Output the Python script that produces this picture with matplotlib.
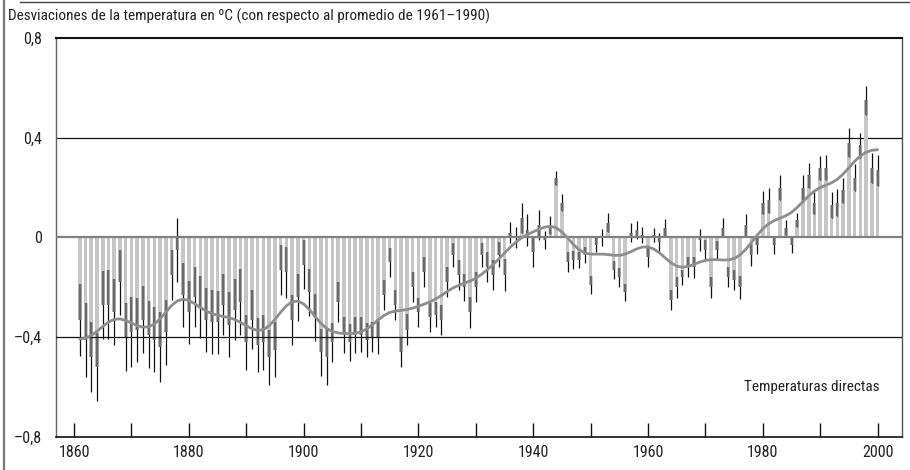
import numpy as np
import matplotlib
matplotlib.use("Agg")
import matplotlib.pyplot as plt
from matplotlib import font_manager as fm

# fuente estrecha si existe (el original usa una Helvetica condensada)
_names = {f.name for f in fm.fontManager.ttflist}
_cond = [f.name for f in fm.fontManager.ttflist if f.stretch in ("condensed", "semi-condensed", 75, 87)]
if "Liberation Sans Narrow" in _names:
    FONT, STRETCH, SCALE = "Liberation Sans Narrow", "normal", 1.05
elif "Roboto Condensed" in _names:
    FONT, STRETCH, SCALE = "Roboto Condensed", "normal", 1.0
elif "DejaVu Sans" in _cond:
    FONT, STRETCH, SCALE = "DejaVu Sans", "condensed", 0.98
else:
    FONT, STRETCH, SCALE = "Liberation Sans", "normal", 0.9
plt.rcParams['font.family'] = [FONT, 'DejaVu Sans']
plt.rcParams['font.stretch'] = STRETCH

# Años y desviaciones anuales (ºC, respecto a 1961-1990)
years = np.arange(1861, 2001)
values = [
    -0.33, -0.41, -0.48, -0.52, -0.27, -0.27, -0.30, -0.18, -0.40,
    -0.38, -0.37, -0.33, -0.39, -0.41, -0.44, -0.38, -0.15, -0.05, -0.23,
    -0.30, -0.24, -0.28, -0.33, -0.34, -0.34, -0.27, -0.35, -0.29, -0.26,
    -0.42, -0.33, -0.43, -0.42, -0.48, -0.45, -0.13, -0.14, -0.33, -0.24,
    -0.11, -0.22, -0.32, -0.46, -0.48, -0.42, -0.26, -0.39, -0.42, -0.39,
    -0.39, -0.41, -0.40, -0.40, -0.23, -0.10, -0.27, -0.46, -0.37, -0.20,
    -0.30, -0.14, -0.32, -0.31, -0.33, -0.18, -0.07, -0.15, -0.20, -0.30,
    -0.20, -0.07, -0.12, -0.15, -0.07, -0.15, 0.02, 0.00, 0.08, 0.03,
    -0.06, 0.05, -0.01, 0.05, 0.24, 0.14, -0.10, -0.09, -0.09, -0.07,
    -0.19, -0.03, 0.00, 0.06, -0.13, -0.16, -0.22, 0.02, 0.03, 0.01,
    -0.08, 0.01, -0.02, 0.04, -0.25, -0.20, -0.16, -0.12, -0.12, -0.01,
    -0.05, -0.20, -0.05, 0.04, -0.16, -0.17, -0.20, 0.05, -0.07, -0.03,
    0.14, 0.15, -0.03, 0.20, 0.04, -0.03, 0.07, 0.20, 0.25, 0.14,
    0.28, 0.28, 0.13, 0.14, 0.19, 0.38, 0.24, 0.37, 0.55, 0.28,
    0.27,
]
# semiamplitud del intervalo de incertidumbre de cada año
errors = [
    0.145, 0.148, 0.14, 0.137, 0.137, 0.138, 0.133, 0.13, 0.137,
    0.14, 0.129, 0.135, 0.135, 0.131, 0.141, 0.13, 0.1, 0.13, 0.127,
    0.127, 0.12, 0.124, 0.128, 0.128, 0.127, 0.122, 0.13, 0.123, 0.132,
    0.11, 0.119, 0.108, 0.11, 0.11, 0.11, 0.1, 0.103, 0.1, 0.095,
    0.098, 0.095, 0.095, 0.095, 0.113, 0.079, 0.08, 0.072, 0.075, 0.073,
    0.07, 0.068, 0.061, 0.067, 0.061, 0.059, 0.061, 0.06, 0.063, 0.06,
    0.057, 0.06, 0.057, 0.05, 0.06, 0.06, 0.049, 0.06, 0.053, 0.062,
    0.06, 0.047, 0.06, 0.06, 0.05, 0.065, 0.042, 0.043, 0.06, 0.063,
    0.06, 0.06, 0.035, 0.035, 0.028, 0.033, 0.04, 0.035, 0.032, 0.033,
    0.035, 0.03, 0.033, 0.038, 0.035, 0.039, 0.035, 0.037, 0.035, 0.033,
    0.04, 0.027, 0.038, 0.035, 0.039, 0.042, 0.029, 0.04, 0.042, 0.043,
    0.04, 0.042, 0.035, 0.039, 0.04, 0.041, 0.045, 0.045, 0.043, 0.035,
    0.047, 0.05, 0.037, 0.051, 0.03, 0.032, 0.027, 0.05, 0.05, 0.045,
    0.048, 0.05, 0.052, 0.053, 0.05, 0.059, 0.053, 0.05, 0.057, 0.06,
    0.062,
]
xticks = np.arange(1860, 2001, 10)
xlabels = [str(y) if y % 20 == 0 else "" for y in xticks]
yticks = [-0.8, -0.4, 0, 0.4, 0.8]
ylabels = ["\u20130,8", "\u20130,4", "0", "0,4", "0,8"]

vals = np.array(values)
errs = np.array(errors)

# curva suavizada (filtro gaussiano sobre los valores anuales)
sigma = 2.6
k = np.arange(-10, 11)
w = np.exp(-0.5 * (k / sigma) ** 2)
w /= w.sum()
padded = np.concatenate([vals[10:0:-1], vals, vals[-2:-12:-1]])
smooth = np.convolve(padded, w, mode="valid")

fig = plt.figure(figsize=(9.1, 4.7), dpi=100)
ax = fig.add_axes([56 / 910, 1 - 437 / 470, (902 - 56) / 910, (437 - 38) / 470])

ax.bar(years, vals, width=0.62, color="#c6c6c6", zorder=2)

# bigotes: negro fuera de la barra, gris oscuro dentro
lo = vals - errs
hi = vals + errs
ax.vlines(years, lo, hi, color="#111111", lw=0.9, zorder=3)
b_lo = np.minimum(vals, 0)
b_hi = np.maximum(vals, 0)
in_lo = np.maximum(lo, b_lo)
in_hi = np.minimum(hi, b_hi)
m = in_hi > in_lo
ax.vlines(years[m], in_lo[m], in_hi[m], color="#6a6a6a", lw=1.7, zorder=4)

ax.axhline(0.4, color="#111111", lw=0.9, zorder=1)
ax.axhline(-0.4, color="#111111", lw=0.9, zorder=5)
ax.axhline(0, color="#808080", lw=1.6, zorder=5)

ax.plot(years, smooth, color="#8e8e8e", lw=2.0, zorder=6, solid_capstyle="round")

fs = 11.5 * SCALE
ax.set_xlim(1856.86, 2004.25)
ax.set_ylim(-0.8, 0.8)
ax.set_xticks(xticks)
ax.set_xticklabels(xlabels, fontsize=fs, color="#222222")
ax.set_yticks(yticks)
ax.set_yticklabels(ylabels, fontsize=fs, color="#222222")
ax.tick_params(axis="x", direction="in", length=10, width=1.0, color="#111111", pad=6)
ax.tick_params(axis="y", length=0, pad=10)

ax.spines["top"].set_linewidth(1.5)
ax.spines["top"].set_color("#111111")
ax.spines["bottom"].set_linewidth(1.2)
ax.spines["bottom"].set_color("#111111")
ax.spines["left"].set_color("#666666")
ax.spines["left"].set_linewidth(1.0)
ax.spines["right"].set_color("#555555")
ax.spines["right"].set_linewidth(1.0)

ax.text(2000.4, -0.6, "Temperaturas directas", ha="right", va="center",
        fontsize=11 * SCALE, color="#222222")

fig.text(8 / 910, 1 - 16 / 470, "Desviaciones de la temperatura en \u00baC (con respecto al promedio de 1961\u20131990)",
         ha="left", va="center", fontsize=11 * SCALE, color="#222222")

# marco de la página: línea superior y línea izquierda
fig.add_artist(plt.Line2D([20 / 910, 1], [1 - 1.5 / 470, 1 - 1.5 / 470], color="#444444", lw=1.0))
fig.add_artist(plt.Line2D([4 / 910, 4 / 910], [0, 1], color="#777777", lw=1.6))

fig.savefig("out.png", dpi=100)
